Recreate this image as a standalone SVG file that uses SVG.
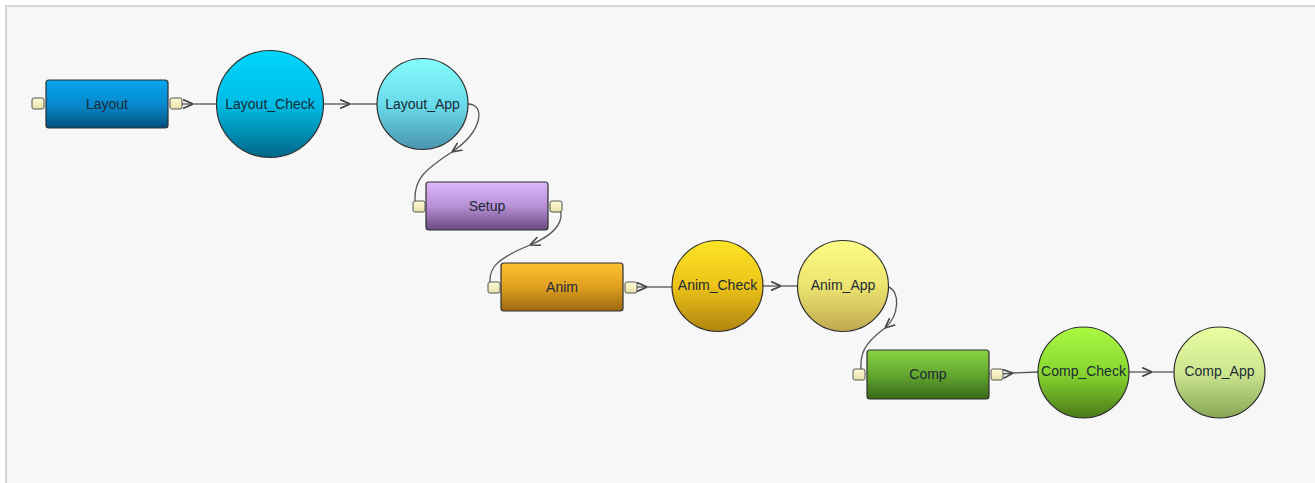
<svg xmlns="http://www.w3.org/2000/svg" width="1315" height="483" viewBox="0 0 1315 483">
<style>
.box{stroke:#2e2e2e;stroke-width:1.2}
.circ{stroke:#2e2e2e;stroke-width:1.2}
.port{fill:url(#gPort);stroke:#555;stroke-width:1}
.lbl{font-family:"Liberation Sans",Arial,sans-serif;font-size:14px;fill:#1c2a36;text-anchor:middle;dominant-baseline:central}
.con{fill:none;stroke:#555;stroke-width:1.3}
</style>
<defs>
<marker id="chev" viewBox="0 0 10 10" refX="10" refY="5" markerUnits="userSpaceOnUse" markerWidth="10" markerHeight="10" orient="auto">
<path d="M0,0.5 L10,5 L0,9.5" fill="none" stroke="#444" stroke-width="1.6"/>
</marker>
<linearGradient id="gPort" x1="0" y1="0" x2="0" y2="1"><stop offset="0" stop-color="#fdfbd8"/><stop offset="1" stop-color="#e8e2a8"/></linearGradient>
<linearGradient id="gLayout" x1="0" y1="0" x2="0" y2="1"><stop offset="0" stop-color="#08a6f2"/><stop offset="0.55" stop-color="#0786c8"/><stop offset="1" stop-color="#034f7c"/></linearGradient>
<linearGradient id="gLC" x1="0" y1="0" x2="0" y2="1"><stop offset="0" stop-color="#00d6fc"/><stop offset="0.5" stop-color="#00bde6"/><stop offset="1" stop-color="#006688"/></linearGradient>
<linearGradient id="gLA" x1="0" y1="0" x2="0" y2="1"><stop offset="0" stop-color="#84fcfc"/><stop offset="0.5" stop-color="#6adcea"/><stop offset="1" stop-color="#4a94ae"/></linearGradient>
<linearGradient id="gSetup" x1="0" y1="0" x2="0" y2="1"><stop offset="0" stop-color="#dcb6fa"/><stop offset="0.5" stop-color="#b890d6"/><stop offset="1" stop-color="#6a4a80"/></linearGradient>
<linearGradient id="gAnim" x1="0" y1="0" x2="0" y2="1"><stop offset="0" stop-color="#fcc232"/><stop offset="0.5" stop-color="#e0a020"/><stop offset="1" stop-color="#9c6810"/></linearGradient>
<linearGradient id="gAC" x1="0" y1="0" x2="0" y2="1"><stop offset="0" stop-color="#fce424"/><stop offset="0.5" stop-color="#ecc418"/><stop offset="1" stop-color="#b08410"/></linearGradient>
<linearGradient id="gAA" x1="0" y1="0" x2="0" y2="1"><stop offset="0" stop-color="#fdfd84"/><stop offset="0.5" stop-color="#ece470"/><stop offset="1" stop-color="#c0a850"/></linearGradient>
<linearGradient id="gComp" x1="0" y1="0" x2="0" y2="1"><stop offset="0" stop-color="#8ad444"/><stop offset="0.5" stop-color="#64a830"/><stop offset="1" stop-color="#386818"/></linearGradient>
<linearGradient id="gCC" x1="0" y1="0" x2="0" y2="1"><stop offset="0" stop-color="#aafa42"/><stop offset="0.5" stop-color="#88d630"/><stop offset="1" stop-color="#4a7a18"/></linearGradient>
<linearGradient id="gCA" x1="0" y1="0" x2="0" y2="1"><stop offset="0" stop-color="#eafda2"/><stop offset="0.5" stop-color="#cce690"/><stop offset="1" stop-color="#88a656"/></linearGradient>
</defs>
<rect x="0" y="0" width="1315" height="483" fill="#ffffff"/>
<rect x="6" y="6" width="1330" height="500" fill="#f7f7f7" stroke="#d6d6d6" stroke-width="2"/>

<g id="connectors">
<path class="con" d="M182 104 L193 104" marker-end="url(#chev)"/>
<path class="con" d="M193 104 L216 104"/>
<path class="con" d="M324 104 L350 104" marker-end="url(#chev)"/>
<path class="con" d="M350 104 L377 104"/>
<path class="con" d="M468 104 C 485 104, 484 130, 452 152" marker-end="url(#chev)"/>
<path class="con" d="M452 152 C 424 170, 414 180, 415 200 L 419 207"/>
<path class="con" d="M557 207 C 564 211, 566 230, 530 245" marker-end="url(#chev)"/>
<path class="con" d="M530 245 C 496 259, 489 268, 490 283 L 494 288"/>
<path class="con" d="M636 287 L647 287" marker-end="url(#chev)"/>
<path class="con" d="M647 287 L672 287"/>
<path class="con" d="M763 286 L781 286" marker-end="url(#chev)"/>
<path class="con" d="M781 286 L798 286"/>
<path class="con" d="M888 287 C 900 290, 900 315, 885 328" marker-end="url(#chev)"/>
<path class="con" d="M885 328 C 863 344, 860 355, 861 370 L 865 375"/>
<path class="con" d="M1002 374 L1013 373" marker-end="url(#chev)"/>
<path class="con" d="M1013 373 L1038 372"/>
<path class="con" d="M1129 372 L1152 372" marker-end="url(#chev)"/>
<path class="con" d="M1152 372 L1174 372"/>
</g>

<g id="Layout">
<rect class="box" x="46" y="80" width="122" height="48" rx="3" fill="url(#gLayout)"/>
<rect class="port" x="32" y="98" width="12" height="11" rx="2"/>
<rect class="port" x="170" y="98" width="12" height="11" rx="2"/>
<text class="lbl" x="107" y="104">Layout</text>
</g>
<g id="Layout_Check">
<circle class="circ" cx="270" cy="104" r="53.5" fill="url(#gLC)"/>
<text class="lbl" x="270" y="104">Layout_Check</text>
</g>
<g id="Layout_App">
<circle class="circ" cx="422.5" cy="104" r="45.5" fill="url(#gLA)"/>
<text class="lbl" x="422.5" y="104">Layout_App</text>
</g>
<g id="Setup">
<rect class="box" x="426" y="182" width="122" height="48" rx="3" fill="url(#gSetup)"/>
<rect class="port" x="413" y="201" width="12" height="11" rx="2"/>
<rect class="port" x="550" y="201" width="12" height="11" rx="2"/>
<text class="lbl" x="487" y="206">Setup</text>
</g>
<g id="Anim">
<rect class="box" x="501" y="263" width="122" height="48" rx="3" fill="url(#gAnim)"/>
<rect class="port" x="488" y="282" width="12" height="11" rx="2"/>
<rect class="port" x="625" y="282" width="12" height="11" rx="2"/>
<text class="lbl" x="562" y="287">Anim</text>
</g>
<g id="Anim_Check">
<circle class="circ" cx="717.5" cy="286" r="45.5" fill="url(#gAC)"/>
<text class="lbl" x="717.5" y="285">Anim_Check</text>
</g>
<g id="Anim_App">
<circle class="circ" cx="843" cy="286" r="45.5" fill="url(#gAA)"/>
<text class="lbl" x="843" y="285">Anim_App</text>
</g>
<g id="Comp">
<rect class="box" x="867" y="350" width="122" height="49" rx="3" fill="url(#gComp)"/>
<rect class="port" x="853" y="369" width="12" height="11" rx="2"/>
<rect class="port" x="991" y="369" width="12" height="11" rx="2"/>
<text class="lbl" x="928" y="374">Comp</text>
</g>
<g id="Comp_Check">
<circle class="circ" cx="1083.5" cy="372.5" r="45.5" fill="url(#gCC)"/>
<text class="lbl" x="1083.5" y="371">Comp_Check</text>
</g>
<g id="Comp_App">
<circle class="circ" cx="1219.5" cy="372.5" r="45.5" fill="url(#gCA)"/>
<text class="lbl" x="1219.5" y="371">Comp_App</text>
</g>
</svg>
